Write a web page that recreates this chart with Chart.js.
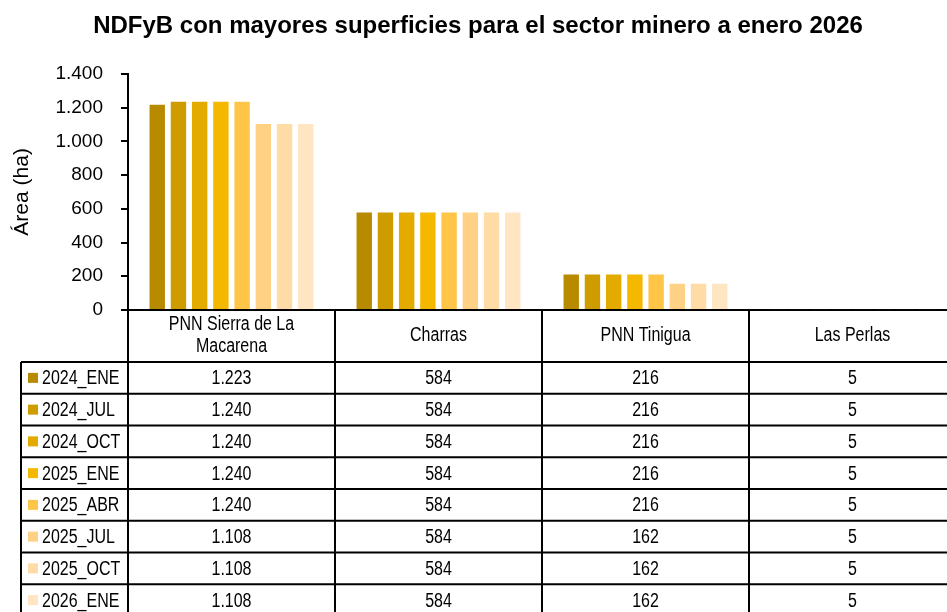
<!DOCTYPE html>
<html>
<head>
<meta charset="utf-8">
<script src="https://cdn.jsdelivr.net/npm/chart.js@4"></script>
<style>
  body { margin: 0; background: #fff; }
  #wrap { width: 947px; height: 612px; overflow: hidden; }
</style>
</head>
<body>
<div id="wrap"><canvas id="grafico" width="956" height="612"></canvas></div>
<script>
const categorias = ['PNN Sierra de La Macarena', 'Charras', 'PNN Tinigua', 'Las Perlas'];
const periodos = ['2024_ENE', '2024_JUL', '2024_OCT', '2025_ENE', '2025_ABR', '2025_JUL', '2025_OCT', '2026_ENE'];
const v2024_ene = [1223, 584, 216, 5];
const v2024_jul = [1240, 584, 216, 5];
const v2024_oct = [1240, 584, 216, 5];
const v2025_ene = [1240, 584, 216, 5];
const v2025_abr = [1240, 584, 216, 5];
const v2025_jul = [1108, 584, 162, 5];
const v2025_oct = [1108, 584, 162, 5];
const v2026_ene = [1108, 584, 162, 5];
const colores = ['#B88A00', '#CF9C00', '#E3AA00', '#F5B800', '#FEC548', '#FFD185', '#FFDCA6', '#FFE5C2'];
const valores = [v2024_ene, v2024_jul, v2024_oct, v2025_ene, v2025_abr, v2025_jul, v2025_oct, v2026_ene];

const FUENTE = '"Liberation Sans", Arial, sans-serif';
const ANGOSTO = 0.82; // el original usa una letra estrecha
const fmt = n => String(n).replace(/\B(?=(\d{3})+(?!\d))/g, '.');

function texto(ctx, s, x, y) {
  ctx.save();
  ctx.translate(x, y);
  ctx.scale(ANGOSTO, 1);
  ctx.fillText(s, 0, 0);
  ctx.restore();
}

// tabla de datos bajo el gráfico, alineada con la escala x
const tablaDatos = {
  id: 'tablaDatos',
  afterDraw(chart) {
    const ctx = chart.ctx;
    const area = chart.chartArea;
    const x = chart.scales.x;
    const ancho = x.getPixelForValue(1) - x.getPixelForValue(0);
    const cabecera = 52;
    const fila = 31.75;
    const izqLeyenda = 21;
    const y0 = area.bottom;
    const yFilas = y0 + cabecera;

    ctx.save();
    ctx.strokeStyle = '#000';
    ctx.lineWidth = 2;
    ctx.fillStyle = '#000';
    ctx.font = '19.5px ' + FUENTE;
    ctx.textBaseline = 'middle';

    // líneas verticales de la tabla
    for (let i = 0; i <= categorias.length; i++) {
      const xp = area.left + i * ancho;
      ctx.beginPath();
      ctx.moveTo(xp, y0);
      ctx.lineTo(xp, 700);
      ctx.stroke();
    }
    ctx.beginPath();
    ctx.moveTo(izqLeyenda, yFilas);
    ctx.lineTo(izqLeyenda, 700);
    ctx.stroke();

    // líneas horizontales
    for (let r = 0; r <= periodos.length; r++) {
      const yp = yFilas + r * fila;
      ctx.beginPath();
      ctx.moveTo(izqLeyenda, yp);
      ctx.lineTo(area.right, yp);
      ctx.stroke();
    }

    // cabecera de categorías
    ctx.textAlign = 'center';
    categorias.forEach((c, i) => {
      const cx = x.getPixelForValue(i);
      const palabras = c.split(' ');
      const lineas = [];
      let actual = '';
      palabras.forEach(p => {
        const prueba = actual ? actual + ' ' + p : p;
        if (ctx.measureText(prueba).width * ANGOSTO > ancho - 40 && actual) {
          lineas.push(actual);
          actual = p;
        } else {
          actual = prueba;
        }
      });
      lineas.push(actual);
      const lh = 22;
      const yc = y0 + cabecera / 2 - (lineas.length - 1) * lh / 2;
      lineas.forEach((l, k) => texto(ctx, l, cx, yc + k * lh));
    });

    // filas: leyenda + valores
    chart.data.datasets.forEach((ds, r) => {
      const yc = yFilas + r * fila + fila / 2;
      ctx.fillStyle = ds.backgroundColor;
      ctx.fillRect(28, yc - 5, 10, 10);
      ctx.fillStyle = '#000';
      ctx.textAlign = 'left';
      texto(ctx, ds.label, 42, yc + 1);
      ctx.textAlign = 'center';
      ds.data.forEach((v, i) => {
        texto(ctx, fmt(v), x.getPixelForValue(i), yc + 1);
      });
    });
    ctx.restore();
  }
};

new Chart(document.getElementById('grafico'), {
  type: 'bar',
  data: {
    labels: categorias,
    datasets: periodos.map((p, i) => ({
      label: p,
      data: valores[i],
      backgroundColor: colores[i],
      borderColor: 'rgba(255,255,255,0.55)',
      borderWidth: 1,
      categoryPercentage: 0.82,
      barPercentage: 0.82
    }))
  },
  options: {
    responsive: false,
    animation: false,
    layout: { padding: { top: 0, bottom: 302, left: 0, right: 0 } },
    plugins: {
      legend: { display: false },
      tooltip: { enabled: false },
      title: {
        display: true,
        text: 'NDFyB con mayores superficies para el sector minero a enero 2026',
        color: '#000',
        font: { family: FUENTE, size: 24, weight: 'bold', lineHeight: 1.2 },
        padding: { top: 12, bottom: 33 }
      }
    },
    scales: {
      x: {
        ticks: { display: false },
        grid: { display: false, drawTicks: false },
        border: { display: true, color: '#000', width: 2 },
        afterFit: s => { s.height = 0; }
      },
      y: {
        min: 0,
        max: 1400,
        ticks: {
          stepSize: 200,
          color: '#000',
          padding: 18,
          font: { family: FUENTE, size: 19 },
          callback: v => fmt(v)
        },
        grid: { drawOnChartArea: false, drawTicks: true, tickLength: 7, color: '#000', lineWidth: 2 },
        border: { display: true, color: '#000', width: 2 },
        title: {
          display: true,
          text: 'Área (ha)',
          color: '#000',
          font: { family: FUENTE, size: 21, lineHeight: 1.2 },
          padding: { top: 10, bottom: 0 }
        },
        afterFit: s => { s.width = 128; }
      }
    }
  },
  plugins: [tablaDatos]
});
</script>
</body>
</html>
